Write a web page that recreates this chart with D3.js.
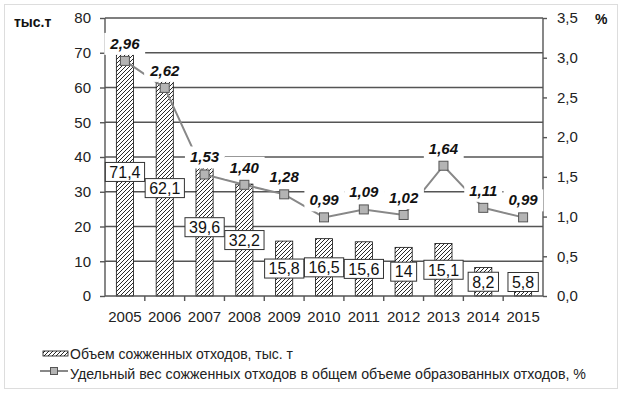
<!DOCTYPE html>
<html lang="ru">
<head>
<meta charset="utf-8">
<title>Объем сожженных отходов</title>
<script src="https://d3js.org/d3.v7.min.js"></script>
<style>
  body { margin: 0; background: #fff; }
  svg { font-family: "Liberation Sans", Arial, sans-serif; }
  .grid line { stroke: #555; stroke-width: 1.4; }
  .axis path, .axis line { stroke: #555; stroke-width: 1.4; }
  .axis text { font-size: 15px; fill: #222; }
</style>
</head>
<body>
<script>
// data
const years = ["2005","2006","2007","2008","2009","2010","2011","2012","2013","2014","2015"];
const burned = [71.4, 62.1, 39.6, 32.2, 15.8, 16.5, 15.6, 14, 15.1, 8.2, 5.8];
const share = [2.96, 2.62, 1.53, 1.40, 1.28, 0.99, 1.09, 1.02, 1.64, 1.11, 0.99];
const leftTicks = [0, 10, 20, 30, 40, 50, 60, 70, 80];
const rightTicks = [0, 0.5, 1, 1.5, 2, 2.5, 3, 3.5];
const barName = "Объем сожженных отходов, тыс. т";
const lineName = "Удельный вес сожженных отходов в общем объеме образованных отходов, %";

const w = 625, h = 395;
const pLeft = 105, pRight = 543, pTop = 18, pBottom = 296;

const comma = v => String(v).replace(".", ",");

const svg = d3.select("body").append("svg").attr("width", w).attr("height", h);

// outer frame
svg.append("rect").attr("x", 4.5).attr("y", 4.5).attr("width", 613).attr("height", 384)
  .attr("fill", "none").attr("stroke", "#ddd");

const defs = svg.append("defs");
const pat = defs.append("pattern").attr("id", "hatch").attr("patternUnits", "userSpaceOnUse")
  .attr("width", 4).attr("height", 4);
pat.append("rect").attr("width", 4).attr("height", 4).attr("fill", "#fff");
pat.append("path").attr("d", "M-1,1 l2,-2 M0,4 l4,-4 M3,5 l2,-2").attr("stroke", "#111").attr("stroke-width", 0.9);

const x = d3.scaleBand().domain(years).range([pLeft, pRight]).paddingInner(0.57).paddingOuter(0.285);
const xb = d3.scaleBand().domain(years).range([pLeft, pRight]);
const y = d3.scaleLinear().domain([0, 80]).range([pBottom, pTop]);
const y2 = d3.scaleLinear().domain([0, 3.5]).range([pBottom, pTop]);

// gridlines
svg.append("g").attr("class", "grid")
  .selectAll("line").data(leftTicks.filter(d => d > 0)).enter().append("line")
  .attr("x1", pLeft).attr("x2", pRight).attr("y1", d => y(d)).attr("y2", d => y(d));

// bars
svg.append("g").selectAll("rect").data(burned).enter().append("rect")
  .attr("x", (d, i) => x(years[i]))
  .attr("y", d => y(d))
  .attr("width", x.bandwidth())
  .attr("height", d => pBottom - y(d))
  .attr("fill", "url(#hatch)").attr("stroke", "#111").attr("stroke-width", 0.8);

// axes
const yAxis = d3.axisLeft(y).tickValues(leftTicks).tickSize(5).tickPadding(9);
svg.append("g").attr("class", "axis").attr("transform", "translate(" + pLeft + ",0)").call(yAxis)
  .call(g => g.select(".domain").attr("d", "M0," + pTop + "V" + pBottom));

const y2Axis = d3.axisRight(y2).tickValues(rightTicks).tickSize(4).tickPadding(10)
  .tickFormat(d => d3.format(".1f")(d).replace(".", ","));
svg.append("g").attr("class", "axis").attr("transform", "translate(" + pRight + ",0)").call(y2Axis)
  .call(g => g.select(".domain").attr("d", "M0," + pTop + "V" + pBottom));

const xAxis = svg.append("g").attr("class", "axis").attr("transform", "translate(0," + pBottom + ")");
xAxis.append("line").attr("x1", pLeft).attr("x2", pRight);
xAxis.selectAll(".tk").data(years.slice(1)).enter().append("line").attr("class", "tk")
  .attr("x1", d => xb(d)).attr("x2", d => xb(d)).attr("y1", 0).attr("y2", 5);
xAxis.selectAll("text").data(years).enter().append("text")
  .attr("x", d => xb(d) + xb.bandwidth() / 2).attr("y", 26)
  .attr("text-anchor", "middle").text(d => d);

// line series
const cx = (d, i) => xb(years[i]) + xb.bandwidth() / 2;
const line = d3.line().x(cx).y(d => y2(d));
svg.append("path").datum(share).attr("d", line)
  .attr("fill", "none").attr("stroke", "#888").attr("stroke-width", 2);
svg.append("g").selectAll("rect").data(share).enter().append("rect")
  .attr("x", (d, i) => cx(d, i) - 4.5).attr("y", d => y2(d) - 4.5)
  .attr("width", 9).attr("height", 9)
  .attr("fill", "#b4b4b4").attr("stroke", "#555").attr("stroke-width", 1);

// bar value labels (boxed, centered on bar)
const bl = svg.append("g").selectAll("g").data(burned).enter().append("g")
  .attr("transform", (d, i) => {
    let cy = (y(d) + pBottom) / 2;
    if (cy > 282) cy = 282;
    return "translate(" + cx(d, i) + "," + cy + ")";
  });
bl.append("text").attr("text-anchor", "middle").attr("dy", "0.36em")
  .attr("font-size", 16).attr("fill", "#111").text(d => comma(d));
bl.each(function() {
  const g = d3.select(this);
  const bb = g.select("text").node().getBBox();
  g.insert("rect", "text").attr("x", bb.x - 4).attr("y", -9.5).attr("width", bb.width + 8).attr("height", 19)
    .attr("fill", "#fff").attr("stroke", "#333").attr("stroke-width", 1);
});

// line value labels
const ll = svg.append("g").selectAll("g").data(share).enter().append("g")
  .attr("transform", (d, i) => "translate(" + cx(d, i) + "," + (y2(d) - 12) + ")");
ll.append("text").attr("text-anchor", "middle")
  .attr("font-size", 15).attr("font-weight", "bold").attr("font-style", "italic").attr("fill", "#111")
  .text(d => d3.format(".2f")(d).replace(".", ","));
ll.each(function() {
  const g = d3.select(this);
  const bb = g.select("text").node().getBBox();
  g.insert("rect", "text").attr("x", bb.x - 5).attr("y", bb.y - 2).attr("width", bb.width + 10).attr("height", bb.height + 5)
    .attr("fill", "#fff");
});

// unit titles
svg.append("text").attr("x", 14).attr("y", 27).attr("font-size", 14).attr("font-weight", "bold")
  .attr("fill", "#111").text("тыс.т");
svg.append("text").attr("x", 595).attr("y", 24).attr("font-size", 14).attr("font-weight", "bold")
  .attr("fill", "#111").text("%");

// legend
const lg = svg.append("g");
lg.append("rect").attr("x", 43).attr("y", 351).attr("width", 25).attr("height", 5)
  .attr("fill", "url(#hatch)").attr("stroke", "#111").attr("stroke-width", 0.8);
lg.append("text").attr("x", 70).attr("y", 359).attr("font-size", 14).attr("fill", "#222")
  .attr("textLength", 223).attr("lengthAdjust", "spacingAndGlyphs").text(barName);
lg.append("line").attr("x1", 40).attr("x2", 68).attr("y1", 371).attr("y2", 371)
  .attr("stroke", "#888").attr("stroke-width", 2);
lg.append("rect").attr("x", 50.5).attr("y", 367.5).attr("width", 7).attr("height", 7)
  .attr("fill", "#b4b4b4").attr("stroke", "#555");
lg.append("text").attr("x", 70).attr("y", 379).attr("font-size", 14).attr("fill", "#222")
  .attr("textLength", 516).attr("lengthAdjust", "spacingAndGlyphs").text(lineName);
</script>
</body>
</html>
